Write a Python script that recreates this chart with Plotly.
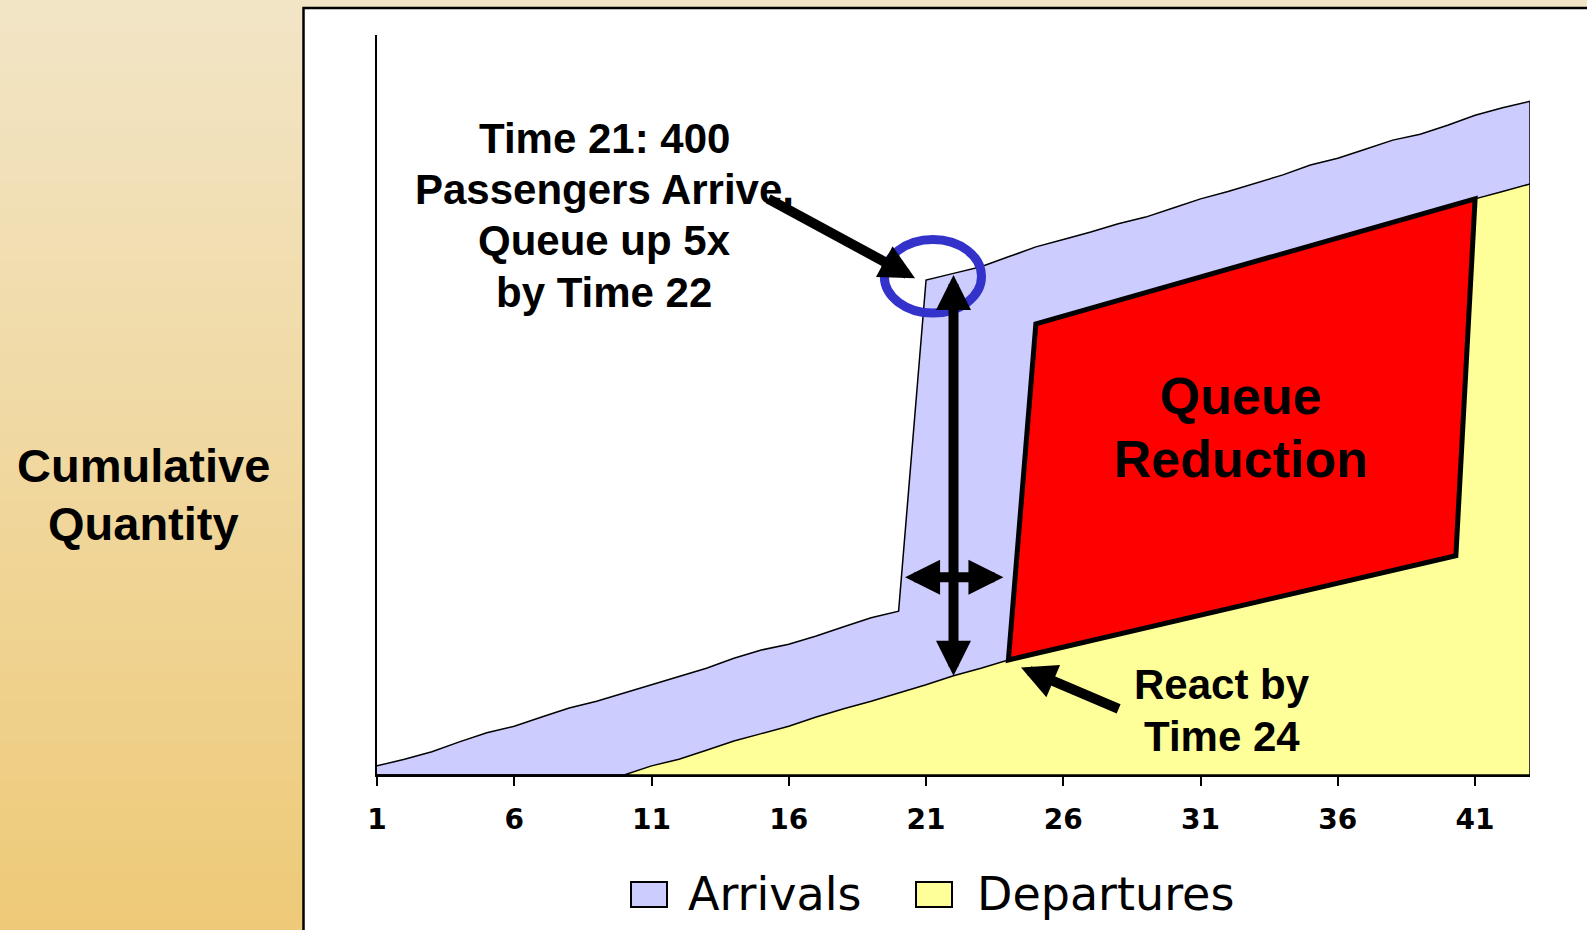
import plotly.graph_objects as go

# ---- data -------------------------------------------------------------
times = list(range(1, 44))

arrivals = [11, 19, 28, 40, 51, 59, 70, 81, 89, 99,
            109, 119, 129, 141, 151, 158, 168, 179, 190, 198,
            598, 606, 614, 626, 638, 647, 656, 666, 674, 685,
            696, 705, 715, 725, 737, 745, 756, 767, 774, 785,
            797, 806, 814]

departures = [0, 0, 0, 0, 0, 0, 0, 0, 0, 0,
              11, 19, 30, 41, 50, 59, 70, 80, 89, 99,
              109, 120, 129, 139, 545, 555, 563, 572, 581, 589,
              598, 606, 614, 626, 638, 647, 656, 666, 674, 685,
              696, 705, 714]

tick_times = [1, 6, 11, 16, 21, 26, 31, 36, 41]
series_names = ["Arrivals", "Departures"]

surge_time = 21          # 400 passengers arrive
react_time = 24          # departures respond
reduction_end = 41       # end of the queue-reduction band
reduction_floor = (40.3, 265)

# ---- styling ----------------------------------------------------------
ARR_FILL = "#CCCCFF"
DEP_FILL = "#FFFF99"
RED = "#FF0000"
RING = "#3333CC"
BG_TOP = (242, 229, 198)
BG_BOTTOM = (238, 202, 120)

W, H = 1587, 930
PL, PR, PT, PB = 377, 1530, 35, 775   # plot-area edges in pixels
Y_MAX = 894


def fx(p):
    return (p - PL) / (PR - PL)


def fy(p):
    return (PB - p) / (PB - PT)


def closed(xs, ys):
    """Close an area outline down to the time axis."""
    return list(xs) + [xs[-1], xs[0]], list(ys) + [0, 0]


fig = go.Figure()

ax_, ay_ = closed(times, arrivals)
fig.add_trace(go.Scatter(x=ax_, y=ay_, name=series_names[0], mode="lines",
                         fill="toself", fillcolor=ARR_FILL,
                         line=dict(color="black", width=1.5),
                         showlegend=False, hoverinfo="skip"))
dx_, dy_ = closed(times, departures)
fig.add_trace(go.Scatter(x=dx_, y=dy_, name=series_names[1], mode="lines",
                         fill="toself", fillcolor=DEP_FILL,
                         line=dict(color="black", width=1.5),
                         showlegend=False, hoverinfo="skip"))

shapes = []

# page background: vertical beige-to-gold gradient
n_strips = 93
for i in range(n_strips):
    t = i / (n_strips - 1)
    c = tuple(round(BG_TOP[k] + (BG_BOTTOM[k] - BG_TOP[k]) * t) for k in range(3))
    y0 = i * H / n_strips
    y1 = (i + 1) * H / n_strips + 1
    shapes.append(dict(type="rect", xref="paper", yref="paper", layer="below",
                       x0=fx(0), x1=fx(W), y0=fy(y1), y1=fy(y0),
                       fillcolor="rgb(%d,%d,%d)" % c, line=dict(width=0)))

# white chart panel
shapes.append(dict(type="rect", xref="paper", yref="paper", layer="below",
                   x0=fx(303.5), x1=fx(W + 20), y0=fy(W), y1=fy(8),
                   fillcolor="white", line=dict(color="black", width=2.5)))

# queue-reduction band
i_react = times.index(react_time)
i_end = times.index(reduction_end)
corners = [(times[i_react], departures[i_react]),
           (times[i_react + 1], departures[i_react + 1]),
           (times[i_end], departures[i_end]),
           reduction_floor]
path = "M " + " L ".join("%g,%g" % c for c in corners) + " Z"
shapes.append(dict(type="path", xref="x", yref="y", path=path,
                   fillcolor=RED, line=dict(color="black", width=5)))

# ring around the surge point
i_surge = times.index(surge_time)
shapes.append(dict(type="circle", xref="x", yref="y",
                   x0=surge_time - 1.52, x1=surge_time + 2.02,
                   y0=arrivals[i_surge] - 40, y1=arrivals[i_surge] + 49,
                   line=dict(color=RING, width=9)))

# legend swatches
for x0, col in [(631, ARR_FILL), (916, DEP_FILL)]:
    shapes.append(dict(type="rect", xref="paper", yref="paper",
                       x0=fx(x0), x1=fx(x0 + 36), y0=fy(907), y1=fy(882),
                       fillcolor=col, line=dict(color="black", width=2)))

BOLD = dict(family="Liberation Sans, Arial, sans-serif", color="black", weight="bold")

annotations = []


def arrow(tip, tail, both=False):
    a = dict(x=tip[0], y=tip[1], ax=tail[0], ay=tail[1],
             xref="x", yref="y", axref="x", ayref="y", text="",
             showarrow=True, arrowhead=2, arrowsize=0.7, arrowwidth=10,
             arrowcolor="black", standoff=0)
    if both:
        a.update(arrowside="end+start", startarrowhead=2, startarrowsize=0.7,
                 startstandoff=0)
    return a


def text_block(lines, cx, ys, size):
    """One centred annotation per line so the leading can be set exactly."""
    for line, y in zip(lines, ys):
        annotations.append(dict(xref="paper", yref="paper", x=fx(cx), y=fy(y),
                                text=line, showarrow=False,
                                xanchor="center", yanchor="middle",
                                font=dict(size=size, **BOLD)))


i22 = times.index(22)
annotations.append(arrow((20.6, 600), (15.2, 697)))
annotations.append(arrow((22, departures[i22]), (22, arrivals[i22]), both=True))
annotations.append(arrow((23.82, 239), (20.18, 239), both=True))
annotations.append(arrow((24.46, 130), (28.07, 79)))

text_block(["Time 21: 400", "Passengers Arrive,", "Queue up 5x", "by Time 22"],
           604, [138, 189, 240.5, 292.5], 42)
text_block(["Queue", "Reduction"], 1241, [395.5, 459], 52)
text_block(["React by", "Time 24"], 1222, [684.5, 736], 42)
text_block(["Cumulative", "Quantity"], 143, [466, 523.5], 47)

# legend labels
for xl, name in [(686, series_names[0]), (975, series_names[1])]:
    annotations.append(dict(xref="paper", yref="paper", x=fx(xl), y=fy(894),
                            text=name, showarrow=False,
                            xanchor="left", yanchor="middle",
                            font=dict(family="DejaVu Sans, sans-serif",
                                      size=46, color="black")))

fig.update_layout(
    width=W, height=H,
    margin=dict(l=PL, r=W - PR, t=PT, b=H - PB, pad=0),
    paper_bgcolor="rgb(%d,%d,%d)" % BG_TOP,
    plot_bgcolor="rgba(0,0,0,0)",
    showlegend=False,
    shapes=shapes,
    annotations=annotations,
    xaxis=dict(range=[1, 43], showgrid=False, zeroline=False,
               showline=True, linecolor="black", linewidth=2,
               ticks="outside", ticklen=9, tickwidth=1.5, tickcolor="black",
               tickvals=tick_times, ticktext=[str(t) for t in tick_times],
               ticklabelstandoff=9,
               tickfont=dict(family="DejaVu Sans, sans-serif", size=28,
                             color="black", weight="bold"),
               layer="above traces"),
    yaxis=dict(range=[0, Y_MAX], showgrid=False, zeroline=False,
               showline=True, linecolor="black", linewidth=2,
               showticklabels=False, ticks="", layer="above traces"),
)

fig.write_html("out.html")
